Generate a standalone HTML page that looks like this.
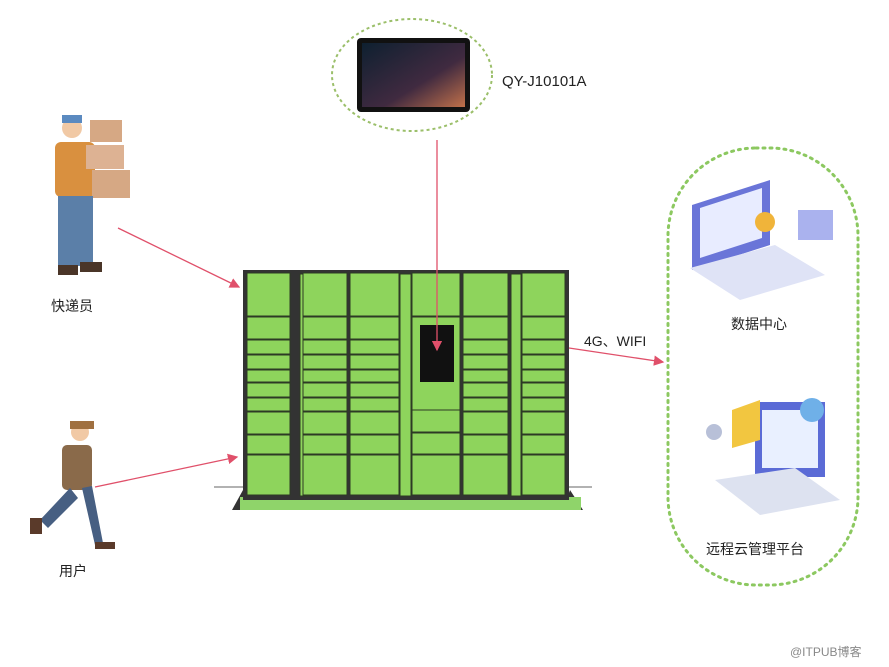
<!DOCTYPE html>
<html><head><meta charset="utf-8"><style>
body{margin:0;width:889px;height:667px;background:#fff;overflow:hidden;position:relative;font-family:"Liberation Sans","Noto Sans CJK SC",sans-serif}
.t{position:absolute;font-size:14px;color:#222}
</style></head><body>
<svg width="889" height="667" style="position:absolute;left:0;top:0">
<defs><marker id="a" markerWidth="8" markerHeight="8" refX="7" refY="4" orient="auto"><path d="M0,0 L8,4 L0,8 z" fill="#e0506a"/></marker>
<linearGradient id="scr" x1="0" y1="0" x2="1" y2="1"><stop offset="0" stop-color="#0e2030"/><stop offset=".6" stop-color="#402a40"/><stop offset="1" stop-color="#c0704a"/></linearGradient></defs>
<!-- tablet ellipse -->
<ellipse cx="412" cy="75" rx="80" ry="56" fill="none" stroke="#9bbf6a" stroke-width="2" stroke-dasharray="3,3"/>
<rect x="357" y="38" width="113" height="74" rx="4" fill="#111"/>
<rect x="362" y="43" width="103" height="64" fill="url(#scr)"/>
<!-- right rounded rect -->
<rect x="668" y="148" width="190" height="437" rx="88" fill="none" stroke="#8cc860" stroke-width="3" stroke-dasharray="2,5" stroke-linecap="round"/>
<!-- data center icon -->
<path d="M692,205 L770,180 L770,245 L692,270 z" fill="#6a75d8"/>
<path d="M700,208 L762,188 L762,238 L700,258 z" fill="#e8ecff"/>
<path d="M690,268 L775,245 L825,275 L740,300 z" fill="#dfe3f6"/>
<rect x="798" y="210" width="35" height="30" fill="#aab2ee"/>
<circle cx="765" cy="222" r="10" fill="#f0b43a"/>
<!-- cloud icon -->
<rect x="755" y="402" width="70" height="75" fill="#5b6bd6"/>
<rect x="762" y="410" width="56" height="58" fill="#e9f0ff"/>
<path d="M715,480 L795,468 L840,500 L760,515 z" fill="#dde2f0"/>
<path d="M732,410 L760,400 L760,440 L732,448 z" fill="#f2c640"/>
<circle cx="812" cy="410" r="12" fill="#6fb0e8"/>
<circle cx="714" cy="432" r="8" fill="#b8c0d8"/>
<!-- locker -->
<line x1="214" y1="487" x2="592" y2="487" stroke="#666" stroke-width="1"/>
<path d="M232,510 L243,490 L250,510 z M583,510 L570,490 L563,510 z" fill="#333"/>
<rect x="240" y="497" width="341" height="13" fill="#8fd46a"/>
<rect x="243" y="270" width="326" height="230" fill="#333"/>
<g fill="#8ed45c" stroke="#2d3a25" stroke-width="1">
<rect x="300" y="274" width="13" height="222"/><rect x="400" y="274" width="11" height="222"/><rect x="511" y="274" width="10" height="222"/>
</g>
<g id="col" fill="#8ed45c" stroke="#2d3a25" stroke-width="1"></g>
<rect x="420" y="325" width="34" height="57" fill="#111"/>
<!-- arrows -->
<g stroke="#e0506a" stroke-width="1.3" fill="none" marker-end="url(#a)">
<line x1="118" y1="228" x2="239" y2="287"/>
<line x1="95" y1="487" x2="237" y2="457"/>
<line x1="437" y1="140" x2="437" y2="350"/>
<line x1="569" y1="348" x2="663" y2="362"/>
</g>
<!-- courier -->
<circle cx="72" cy="128" r="10" fill="#f1c9a5"/><rect x="62" y="115" width="20" height="8" fill="#5b8ac0"/>
<rect x="55" y="142" width="40" height="55" rx="6" fill="#d9903f"/>
<rect x="90" y="120" width="32" height="22" fill="#d6a884"/><rect x="86" y="145" width="38" height="24" fill="#ddb293"/><rect x="92" y="170" width="38" height="28" fill="#d6a884"/>
<rect x="58" y="196" width="35" height="70" fill="#5b7fa8"/>
<rect x="58" y="265" width="20" height="10" fill="#4a3528"/><rect x="80" y="262" width="22" height="10" fill="#4a3528"/>
<!-- user -->
<circle cx="80" cy="432" r="9" fill="#f1c9a5"/><rect x="70" y="421" width="24" height="8" fill="#a07040"/>
<rect x="62" y="445" width="30" height="45" rx="5" fill="#8a6a4a"/>
<path d="M70,488 L40,520 L48,528 L78,498 z M82,488 L95,545 L103,543 L92,486 z" fill="#475f82"/>
<rect x="30" y="518" width="12" height="16" fill="#5a3a2a"/><rect x="95" y="542" width="20" height="7" fill="#5a3a2a"/>
</svg>
<div class="t" style="left:51px;top:296px">快递员</div>
<div class="t" style="left:59px;top:561px">用户</div>
<div class="t" style="left:502px;top:73px;font-size:15px">QY-J10101A</div>
<div class="t" style="left:584px;top:331px">4G、WIFI</div>
<div class="t" style="left:731px;top:314px">数据中心</div>
<div class="t" style="left:706px;top:539px">远程云管理平台</div>
<div class="t" style="left:790px;top:643px;font-size:12px;color:#888">@ITPUB博客</div>
<script>
var g=document.getElementById('col'),ns='http://www.w3.org/2000/svg';
var cols=[[247,290],[303,347],[350,399],[412,460],[463,508],[522,565]];
var rows=[273,317,340,355,370,383,398,412,435,455,496];
cols.forEach(function(c,i){
 var rs=i==3?[273,317,410,433,455,496]:rows;
 for(var j=0;j<rs.length-1;j++){var r=document.createElementNS(ns,'rect');
 r.setAttribute('x',c[0]);r.setAttribute('y',rs[j]);r.setAttribute('width',c[1]-c[0]);r.setAttribute('height',rs[j+1]-rs[j]-1);g.appendChild(r);}
 if(i==3){var r=document.createElementNS(ns,'rect');r.setAttribute('x',c[0]);r.setAttribute('y',317);r.setAttribute('width',c[1]-c[0]);r.setAttribute('height',93);g.appendChild(r);}
});
</script>
</body></html>
